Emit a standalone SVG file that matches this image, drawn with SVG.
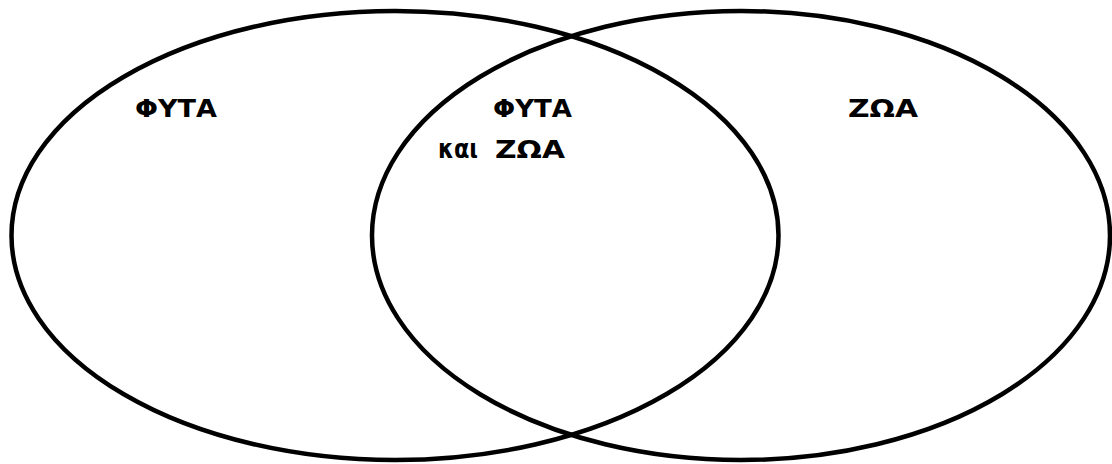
<svg xmlns="http://www.w3.org/2000/svg" width="1112" height="464" viewBox="0 0 1112 464">
<style>
.set{fill:none;stroke:#000;stroke-width:4.5}
.lbl{font-family:"DejaVu Sans",sans-serif;font-weight:bold;font-size:25px;fill:#000}
.small{font-size:27px}
</style>
<rect width="1112" height="464" fill="#fff"/>
<g id="connectors"></g>
<g id="plants"><ellipse class="set" cx="395" cy="235.5" rx="383.5" ry="224.5"/></g>
<g id="animals"><ellipse class="set" cx="741" cy="235.5" rx="369" ry="224.5"/></g>
<g id="label-plants"><text class="lbl" x="135" y="117" textLength="82" lengthAdjust="spacingAndGlyphs">ΦΥΤΑ</text></g>
<g id="label-both">
<text class="lbl" x="493" y="117" textLength="79" lengthAdjust="spacingAndGlyphs">ΦΥΤΑ</text>
<text class="lbl small" x="438" y="158" textLength="40" lengthAdjust="spacingAndGlyphs">και</text>
<text class="lbl" x="495" y="158" textLength="70" lengthAdjust="spacingAndGlyphs">ΖΩΑ</text>
</g>
<g id="label-animals"><text class="lbl" x="848" y="117" textLength="70" lengthAdjust="spacingAndGlyphs">ΖΩΑ</text></g>
</svg>
